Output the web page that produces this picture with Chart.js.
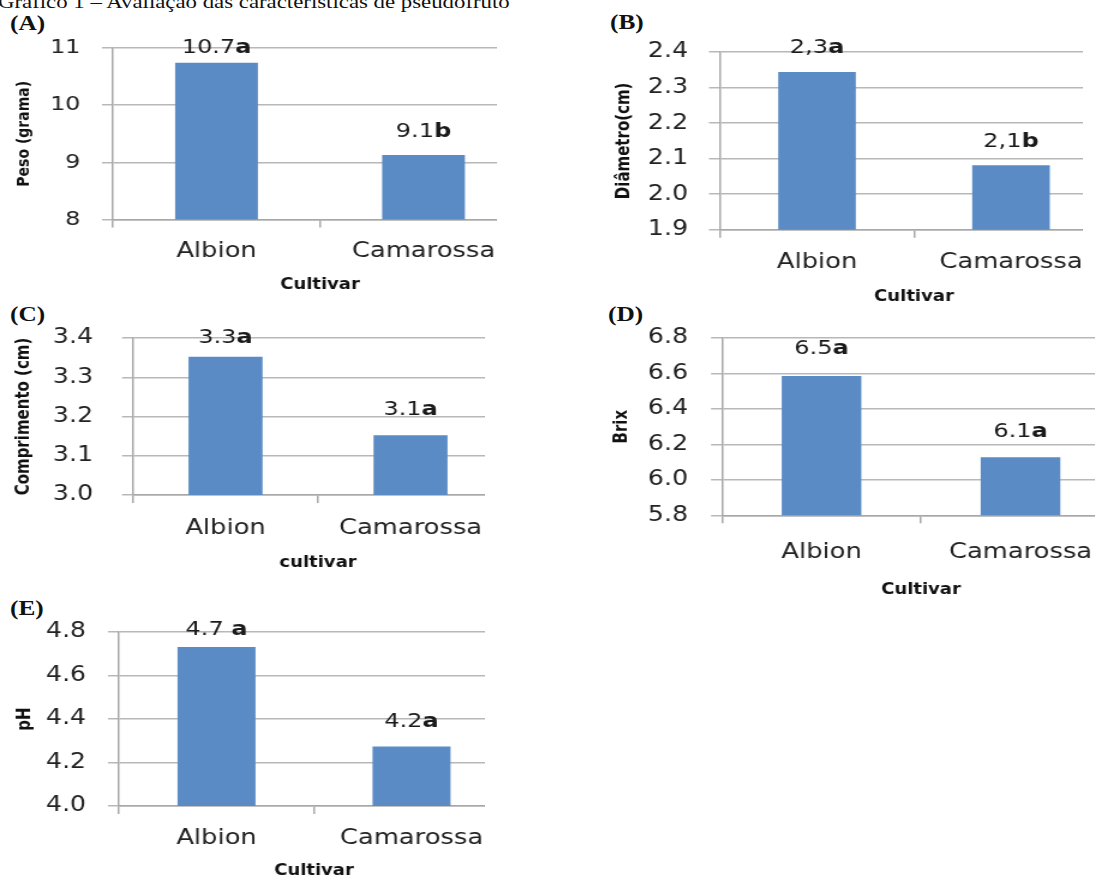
<!DOCTYPE html>
<html lang="pt">
<head>
  <meta charset="UTF-8">
  <title>Gráfico 1 | Pseudofruto</title>
  <script src="https://cdn.jsdelivr.net/npm/chart.js"></script>
  <style>
    body { margin: 0; width: 1095px; height: 878px; position: relative; overflow: hidden; background: #fff; }
    .clip { position: absolute; overflow: hidden; }
    .inner { position: absolute; left: 0; top: 0; transform-origin: 0 0; transform: scaleX(1.2); }
    .tag { position: absolute; font: bold 22px "Liberation Serif", serif; line-height: 22px; transform-origin: 0 0; transform: scaleX(1.15); white-space: nowrap; color: #111; }
    #header { position: absolute; left: -2px; top: -8px; font: 19px "Liberation Serif", serif; line-height: 19px; transform-origin: 0 0; transform: scaleX(1.2); white-space: nowrap; color: #111; }
  </style>
</head>
<body>
  <div id="header">Gráfico 1 – Avaliação das características de pseudofruto</div>
  <div class="tag" style="left:10px; top:12px">(A)</div>
  <div class="tag" style="left:610px; top:11px">(B)</div>
  <div class="tag" style="left:10px; top:303px">(C)</div>
  <div class="tag" style="left:608px; top:303px">(D)</div>
  <div class="tag" style="left:10px; top:597px">(E)</div>

  <script>
    const cultivars = ['Albion', 'Camarossa'];

    const peso = [10.74, 9.13];
    const pesoNums = ['10.7', '9.1'];
    const pesoLetters = ['a', 'b'];
    const pesoTicks = ['8', '9', '10', '11'];

    const diametro = [2.344, 2.081];
    const diametroNums = ['2,3', '2,1'];
    const diametroLetters = ['a', 'b'];
    const diametroTicks = ['1.9', '2.0', '2.1', '2.2', '2.3', '2.4'];

    const comprimento = [3.352, 3.152];
    const comprimentoNums = ['3.3', '3.1'];
    const comprimentoLetters = ['a', 'a'];
    const comprimentoTicks = ['3.0', '3.1', '3.2', '3.3', '3.4'];

    const brix = [6.585, 6.128];
    const brixNums = ['6.5', '6.1'];
    const brixLetters = ['a', 'a'];
    const brixTicks = ['5.8', '6.0', '6.2', '6.4', '6.6', '6.8'];

    const ph = [4.731, 4.274];
    const phNums = ['4.7 ', '4.2'];
    const phLetters = ['a', 'a'];
    const phTicks = ['4.0', '4.2', '4.4', '4.6', '4.8'];

    const S = 1.2; // the original figure is stretched sideways
    const FONT = '"DejaVu Sans", sans-serif';

    // number in normal weight followed by the bold letter, above each bar
    const valueLabels = {
      id: 'valueLabels',
      afterDatasetsDraw(chart, args, opts) {
        const ctx = chart.ctx;
        chart.getDatasetMeta(0).data.forEach((bar, i) => {
          const normal = `${opts.size}px ${FONT}`;
          const bold = `bold ${opts.size}px ${FONT}`;
          ctx.save();
          ctx.font = normal;
          const w1 = ctx.measureText(opts.nums[i]).width;
          ctx.font = bold;
          const w2 = ctx.measureText(opts.letters[i]).width;
          const x0 = bar.x - (w1 + w2) / 2;
          const y = bar.y - opts.lift[i];
          ctx.fillStyle = '#1a1a1a';
          ctx.textBaseline = 'alphabetic';
          ctx.textAlign = 'left';
          ctx.font = normal;
          ctx.fillText(opts.nums[i], x0, y);
          ctx.font = bold;
          ctx.fillText(opts.letters[i], x0 + w1, y);
          ctx.restore();
        });
      }
    };

    function panel(g, values, ticks, nums, letters, yTitle, xTitle) {
      const top = g.plotT - 40;
      const bottom = g.xTitleY + 12;
      const H = Math.round(bottom - top);

      const clip = document.createElement('div');
      clip.className = 'clip';
      clip.style.left = g.col + 'px';
      clip.style.top = top + 'px';
      clip.style.width = (g.clipRight - g.col) + 'px';
      clip.style.height = H + 'px';
      const inner = document.createElement('div');
      inner.className = 'inner';
      const W = Math.round((g.plotR + 20 - g.col) / S);
      inner.style.width = W + 'px';
      inner.style.height = H + 'px';
      const cv = document.createElement('canvas');
      cv.width = W;
      cv.height = H;
      inner.appendChild(cv);
      clip.appendChild(inner);
      document.body.appendChild(clip);

      const axisX = (g.plotL - g.col) / S;
      const rightPad = W - (g.plotR - g.col) / S;
      const yTick = 11 / S;
      const xTick = 8;
      const xScaleH = (top + H) - g.plotB;
      const vals = ticks.map(Number);

      new Chart(cv, {
        type: 'bar',
        data: {
          labels: cultivars,
          datasets: [{
            data: values,
            backgroundColor: '#5b8bc5',
            borderWidth: 0,
            barPercentage: 1,
            categoryPercentage: 0.4
          }]
        },
        options: {
          responsive: false,
          animation: false,
          layout: { padding: { top: 40, bottom: 0, left: 0, right: rightPad } },
          plugins: {
            legend: { display: false },
            tooltip: { enabled: false },
            valueLabels: { nums, letters, size: 20, lift: g.lift }
          },
          scales: {
            x: {
              grid: { drawOnChartArea: false, drawTicks: true, tickLength: xTick, offset: true, color: '#a8a8a8', lineWidth: 1.5 },
              border: { display: true, color: '#a8a8a8', width: 1.5 },
              ticks: {
                color: '#222', maxRotation: 0, autoSkip: false,
                font: { family: FONT, size: 21.5 },
                padding: g.catY - g.plotB - xTick - 21.5 * 1.2 / 2
              },
              title: {
                display: true, text: xTitle, color: '#111',
                font: { family: FONT, size: 15, weight: 'bold' },
                padding: { top: 0, bottom: (top + H) - g.xTitleY - 15 * 1.2 / 2 }
              },
              afterFit(scale) { scale.height = xScaleH; }
            },
            y: {
              min: vals[0],
              max: vals[vals.length - 1],
              afterBuildTicks(scale) { scale.ticks = vals.map(v => ({ value: v })); },
              grid: { color: '#b8b8b8', lineWidth: 1.5, drawTicks: true, tickLength: yTick },
              border: { display: true, color: '#a8a8a8', width: 1.5 },
              ticks: {
                color: '#222',
                font: { family: FONT, size: g.tickSize },
                padding: (g.plotL - g.tickRight) / S - yTick,
                callback: (v, i) => ticks[i]
              },
              title: {
                display: true, text: yTitle, color: '#111',
                font: { family: FONT, size: g.yTitleSize, weight: 'bold' },
                padding: { top: (g.yTitleX - g.col) / S - g.yTitleSize * 1.2 / 2, bottom: 0 }
              },
              afterFit(scale) { scale.width = axisX; }
            }
          }
        },
        plugins: [valueLabels]
      });
    }

    panel({ col: 0, clipRight: 497, plotL: 113, plotR: 527, plotT: 48, plotB: 219.5, yTitleX: 24.5, tickRight: 80.5,
            catY: 251, xTitleY: 285, tickSize: 20, yTitleSize: 14, lift: [10.3, 18] },
          peso, pesoTicks, pesoNums, pesoLetters, 'Peso (grama)', 'Cultivar');

    panel({ col: 580, clipRight: 1083, plotL: 720, plotR: 1108, plotT: 52, plotB: 229.7, yTitleX: 624, tickRight: 688,
            catY: 262, xTitleY: 297, tickSize: 21, yTitleSize: 15, lift: [18.7, 18.8] },
          diametro, diametroTicks, diametroNums, diametroLetters, 'Diâmetro(cm)', 'Cultivar');

    panel({ col: 0, clipRight: 485, plotL: 133, plotR: 503, plotT: 338, plotB: 495, yTitleX: 24, tickRight: 93,
            catY: 528, xTitleY: 563, tickSize: 21, yTitleSize: 15, lift: [13.7, 20] },
          comprimento, comprimentoTicks, comprimentoNums, comprimentoLetters, 'Comprimento (cm)', 'cultivar');

    panel({ col: 580, clipRight: 1095, plotL: 722, plotR: 1120, plotT: 337.7, plotB: 515, yTitleX: 622.5, tickRight: 688,
            catY: 552.5, xTitleY: 590, tickSize: 21, yTitleSize: 15, lift: [22, 20] },
          brix, brixTicks, brixNums, brixLetters, 'Brix', 'Cultivar');

    panel({ col: 0, clipRight: 485, plotL: 119, plotR: 509, plotT: 632, plotB: 806, yTitleX: 25.5, tickRight: 86,
            catY: 838, xTitleY: 871, tickSize: 21, yTitleSize: 15, lift: [12, 19.6] },
          ph, phTicks, phNums, phLetters, 'pH', 'Cultivar');
  </script>
</body>
</html>
